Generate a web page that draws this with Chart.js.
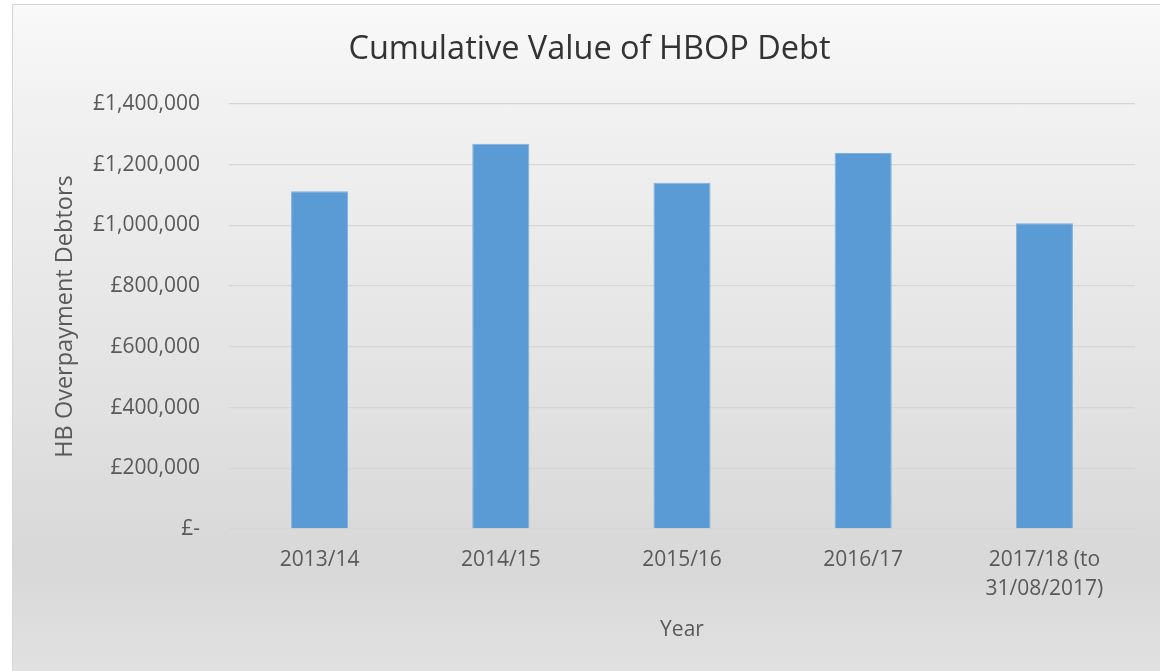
<!DOCTYPE html>
<html>
<head>
<meta charset="utf-8">
<script src="https://cdn.jsdelivr.net/npm/chart.js@4/dist/chart.umd.min.js"></script>
<style>
  html, body { margin: 0; padding: 0; background: #ffffff; width: 1160px; height: 671px; overflow: hidden; }
  #frame {
    position: absolute; left: 12px; top: 4px; width: 1160px; height: 680px;
    border: 1px solid #d6d6d6; box-sizing: border-box;
    background: linear-gradient(to bottom, #f9f9f9 0%, #f1f1f1 15%, #e3e3e3 55%, #d8d8d8 82%, #e2e2e2 100%);
  }
  #wrap { position: absolute; left: 13px; top: 5px; width: 1153px; height: 666px; }
</style>
</head>
<body>
<div id="frame"></div>
<div id="wrap"><canvas id="c"></canvas></div>
<script>
const categories = ['2013/14', '2014/15', '2015/16', '2016/17', ['2017/18 (to', '31/08/2017)']];
const debtValues = [1113000, 1269000, 1141000, 1239000, 1007000];
const yTicks = [0, 200000, 400000, 600000, 800000, 1000000, 1200000, 1400000];
const chartTitle = 'Cumulative Value of HBOP Debt';
const yTitle = 'HB Overpayment Debtors';
const xTitle = 'Year';

const FONT = "'Open Sans', 'DejaVu Sans', sans-serif";

function fmt(v) {
  if (v === 0) return '£-';
  return '£' + v.toLocaleString('en-GB');
}

new Chart(document.getElementById('c'), {
  type: 'bar',
  data: {
    labels: categories,
    datasets: [{
      label: 'HBOP Debt',
      data: debtValues,
      backgroundColor: '#5b9bd5',
      borderColor: '#7fb0de',
      borderWidth: 1,
      categoryPercentage: 1,
      barPercentage: 0.315
    }]
  },
  options: {
    responsive: true,
    maintainAspectRatio: false,
    animation: false,
    layout: { padding: 0 },
    plugins: {
      legend: { display: false },
      tooltip: { enabled: false },
      title: {
        display: true,
        text: chartTitle,
        color: '#333333',
        font: { family: FONT, size: 32.5, weight: 'normal', lineHeight: 1.2 },
        padding: { top: 25, bottom: 35 }
      }
    },
    scales: {
      x: {
        grid: { display: false, drawTicks: false },
        border: { display: false },
        ticks: {
          color: '#595959',
          font: { family: FONT, size: 21, lineHeight: 1.38 },
          padding: 17,
          maxRotation: 0,
          autoSkip: false
        },
        title: {
          display: true,
          text: xTitle,
          color: '#595959',
          font: { family: FONT, size: 21, lineHeight: 1.2 },
          padding: { top: 0, bottom: 28 }
        },
        afterFit: (s) => { s.height = 142; }
      },
      y: {
        min: 0,
        max: 1400000,
        afterBuildTicks: (s) => { s.ticks = yTicks.map(v => ({ value: v })); },
        grid: { color: '#d6d6d6', lineWidth: 1.3, drawTicks: false },
        border: { display: false },
        ticks: {
          color: '#595959',
          font: { family: FONT, size: 21 },
          padding: 29,
          callback: (v) => fmt(v)
        },
        title: {
          display: true,
          text: yTitle,
          color: '#595959',
          font: { family: FONT, size: 23.5, lineHeight: 1.2 },
          padding: { top: 38, bottom: 0 }
        },
        afterFit: (s) => { s.width = 216; }
      },
      yRight: {
        position: 'right',
        display: true,
        min: 0,
        max: 1400000,
        grid: { display: false, drawTicks: false },
        border: { display: false },
        ticks: { display: false },
        afterFit: (s) => { s.width = 31; }
      }
    }
  }
});
</script>
</body>
</html>
